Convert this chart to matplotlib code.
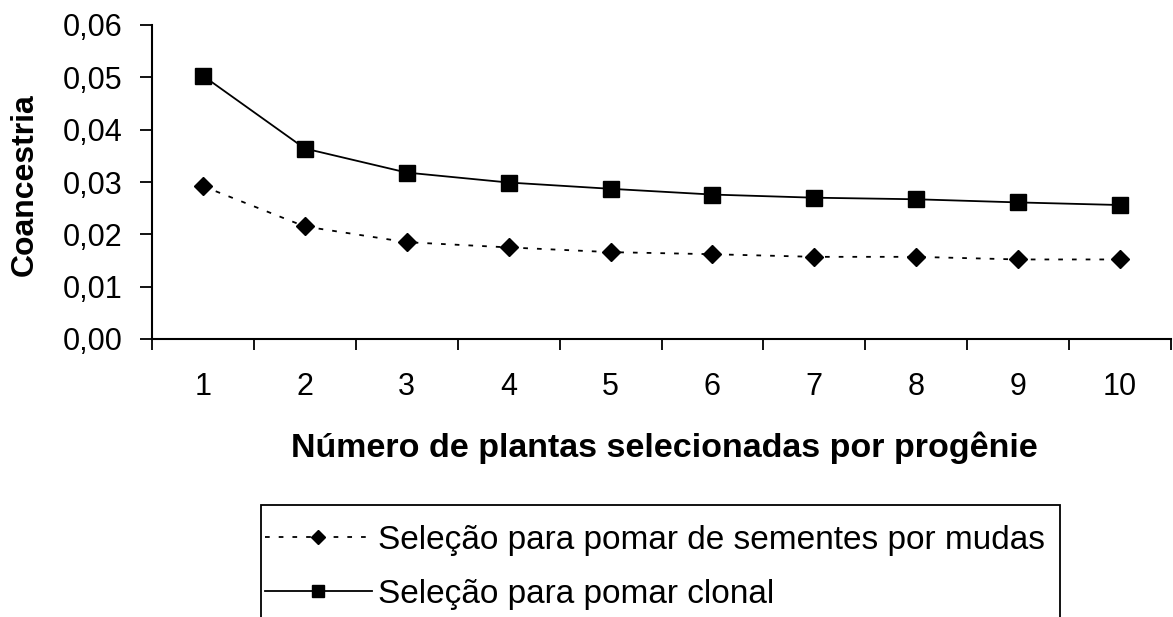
import matplotlib
matplotlib.use("Agg")
import matplotlib.pyplot as plt
from matplotlib.patches import Rectangle
from matplotlib.ticker import FixedLocator, FuncFormatter

plt.rcParams['font.family'] = ['Liberation Sans', 'DejaVu Sans']

plantas = [1, 2, 3, 4, 5, 6, 7, 8, 9, 10]
# coancestria - pomar de sementes por mudas (losango, pontilhado)
mudas = [0.0292, 0.0215, 0.0185, 0.0175, 0.0166, 0.0162, 0.0157, 0.0157, 0.0152, 0.0152]
# coancestria - pomar clonal (quadrado, linha cheia)
clonal = [0.0503, 0.0364, 0.0318, 0.0299, 0.0287, 0.0276, 0.0270, 0.0267, 0.0261, 0.0256]
yticks = [0.00, 0.01, 0.02, 0.03, 0.04, 0.05, 0.06]

fig = plt.figure(figsize=(11.73, 6.17), dpi=100)
ax = fig.add_axes([152/1173, 1-339/617, (1171-152)/1173, (339-25)/617])

ax.plot(plantas, mudas, color='black', linestyle=(0, (2.6, 5.0)), linewidth=1.3,
        marker='D', markersize=9, label='Seleção para pomar de sementes por mudas')
ax.plot(plantas, clonal, color='black', linestyle='-', linewidth=1.3,
        marker='s', markersize=11, label='Seleção para pomar clonal')

ax.set_xlim(0.5, 10.5)
ax.set_ylim(0, 0.06)
ax.set_yticks(yticks)
ax.yaxis.set_major_formatter(FuncFormatter(lambda v, p: f'{v:.2f}'.replace('.', ',')))
ax.set_xticks(plantas)
ax.xaxis.set_minor_locator(FixedLocator([x + 0.5 for x in [0] + plantas]))

for s in ['top', 'right']:
    ax.spines[s].set_visible(False)
for s in ['left', 'bottom']:
    ax.spines[s].set_linewidth(1.5)

ax.tick_params(axis='y', direction='out', length=9, width=1.3, pad=12, labelsize=22)
ax.tick_params(axis='x', which='major', length=0, pad=24, labelsize=22)
ax.tick_params(axis='x', which='minor', direction='out', length=8, width=1.3)

fig.text(664/1173, 1-448/617, 'Número de plantas selecionadas por progênie',
         fontsize=24.5, fontweight='bold', ha='center', va='center')
fig.text(25/1173, 1-185/617, 'Coancestria', fontsize=23, fontweight='bold',
         rotation=90, ha='center', va='center')

# legend box runs off the bottom of the image, so the frame is drawn by hand
leg = fig.legend(loc='upper left', bbox_to_anchor=(261/1173, 1-521/617),
                 fontsize=24, frameon=False, handlelength=3.2,
                 handletextpad=0.2, labelspacing=0.69, borderpad=0.12,
                 borderaxespad=0, markerscale=0.8)
fig.patches.append(Rectangle((261/1173, -0.1), (1060-261)/1173, 0.1 + 1-505/617,
                             transform=fig.transFigure, fill=False,
                             edgecolor='black', linewidth=1.3))

fig.savefig('out.png', dpi=100)
